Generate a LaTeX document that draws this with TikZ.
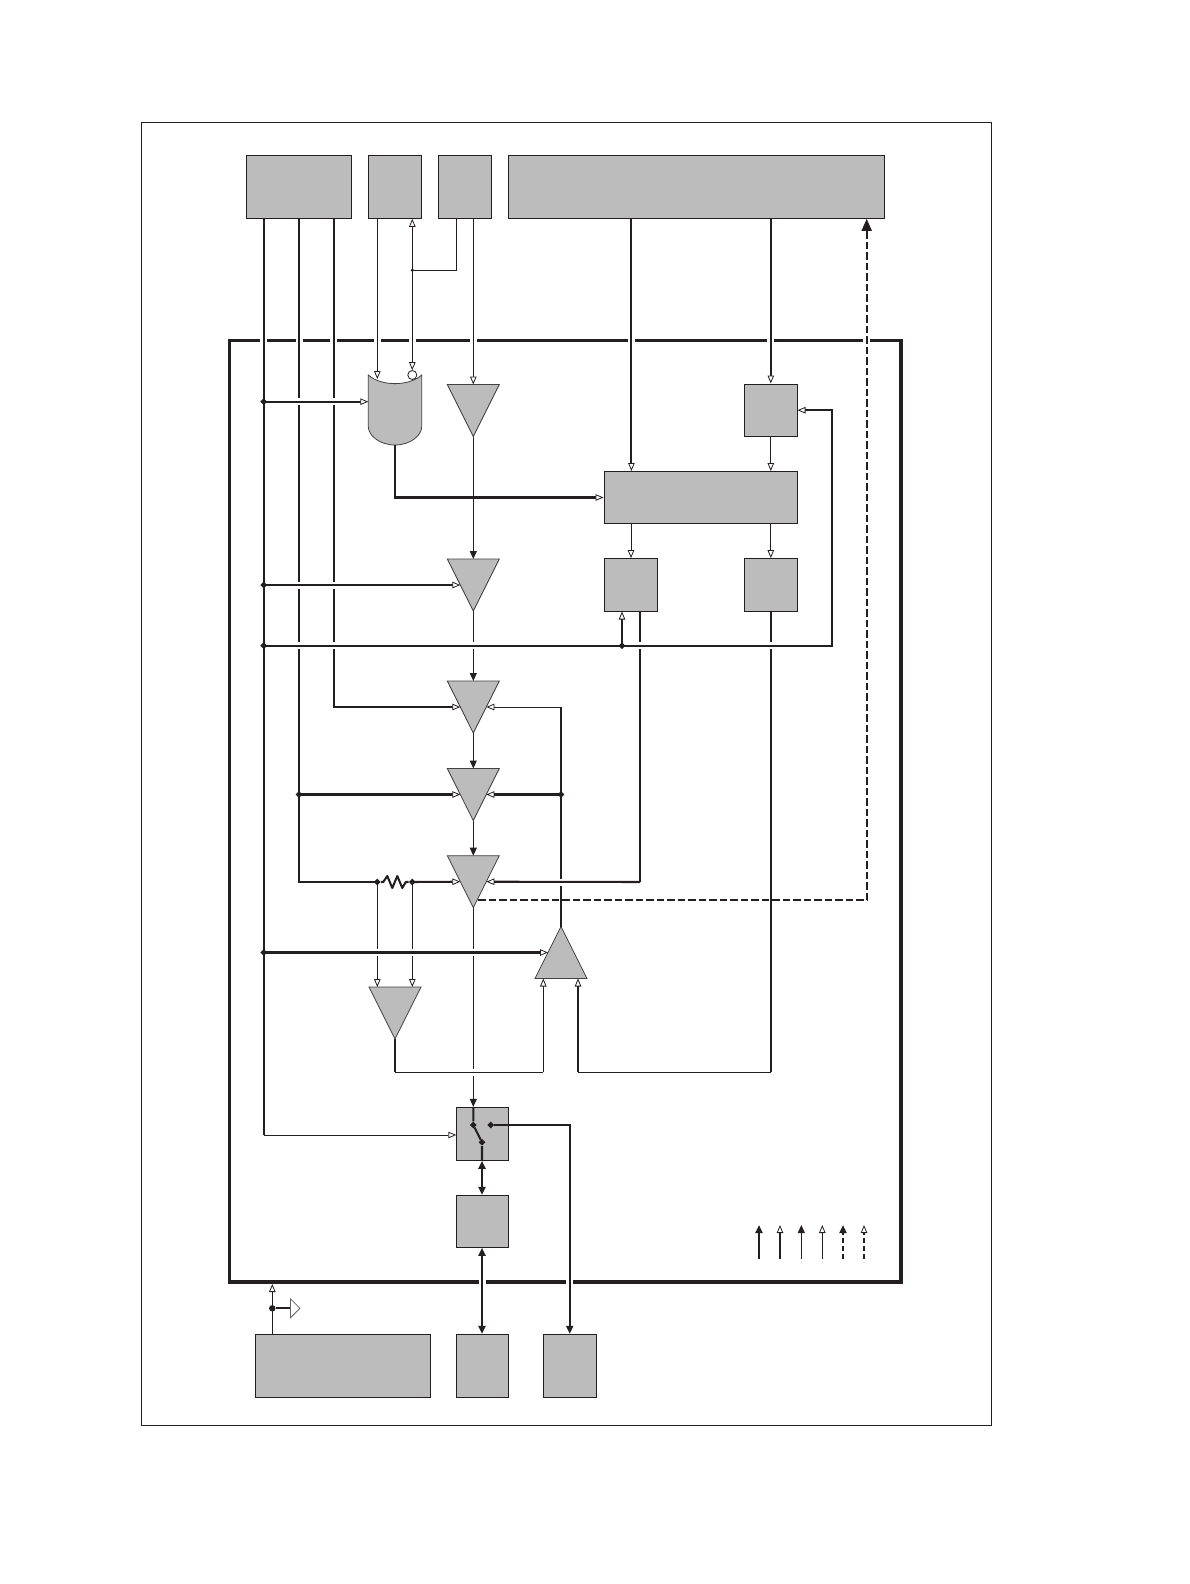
\documentclass[tikz,border=0pt]{standalone}
\usepackage{xcolor}
\usetikzlibrary{positioning,arrows.meta,calc,shapes.geometric}
\definecolor{blockgray}{HTML}{BCBCBC}
\definecolor{wireink}{HTML}{231F20}

\begin{document}
\begin{tikzpicture}[
  x=1pt, y=-1pt,
  block/.style = {draw=wireink, line width=0.9pt, fill=blockgray, inner sep=0pt},
  tribuf/.style = {draw=wireink!85, line width=0.8pt, fill=blockgray, inner sep=0pt, outer sep=0pt,
                   isosceles triangle, isosceles triangle apex angle=53.13,
                   minimum height=52pt, anchor=apex},
  trid/.style = {tribuf, shape border rotate=270},
  triu/.style = {tribuf, shape border rotate=90},
  jdot/.style = {diamond, fill=wireink, inner sep=0pt, minimum size=7pt},
  bus/.style = {draw=wireink, line width=2.05pt},
  sig/.style = {draw=wireink, line width=1pt},
  opn/.style = {-{Triangle[length=8pt, width=6.5pt, fill=white, line width=0.8pt]}},
  opnb/.style = {{Triangle[length=8pt, width=6.5pt, fill=white, line width=0.8pt]}-{Triangle[length=8pt, width=6.5pt, fill=white, line width=0.8pt]}},
  sld/.style = {-{Triangle[length=8pt, width=7pt]}},
  sldb/.style = {{Triangle[length=8pt, width=7pt]}-{Triangle[length=8pt, width=7pt]}},
  hgap/.style = {fill=white, inner sep=0pt, minimum width=7pt, minimum height=5pt},
  vgap/.style = {fill=white, inner sep=0pt, minimum width=4pt, minimum height=7pt}
]
\useasboundingbox (0,0) rectangle (1190,1584);

% ---------- frames ----------------------------------------------------------
\draw[wireink, line width=0.8pt] (141.5,122) rectangle (991.5,1425.5);
\draw[wireink, line width=3.3pt] (229.5,340.5) rectangle (901,1282);
\foreach \gx/\gy [count=\i] in {263.7/340.5, 299/340.5, 333.7/340.5, 377.3/340.5, 412.3/340.5,
    473.3/340.5, 631.4/340.5, 770.8/340.5, 866.7/340.5, 482/1282, 569.7/1282}
  \node[hgap] (fg\i) at (\gx,\gy) {};

% ---------- blocks ----------------------------------------------------------
\node[block, minimum width=105.4pt, minimum height=63.3pt] (ctl) at (299,186.7) {};
\node[block, minimum width=53.4pt, minimum height=63.3pt] (adr) at (395,186.7) {};
\node[block, minimum width=53.4pt, minimum height=63.3pt] (clk) at (465,186.7) {};
\node[block, minimum width=376pt, minimum height=63.3pt] (mem) at (696.3,186.7) {};
\node[block, minimum width=52.5pt, minimum height=52.5pt] (reg) at (770.8,410.2) {};
\node[block, minimum width=193pt, minimum height=52pt] (dec) at (700.5,497.5) {};
\node[block, minimum width=53.5pt, minimum height=52.5pt] (lata) at (631,584.8) {};
\node[block, minimum width=52.5pt, minimum height=52.5pt] (latb) at (770.8,584.8) {};
\node[block, minimum width=52pt, minimum height=53pt] (swb) at (482.7,1133.8) {};
\node[block, minimum width=52pt, minimum height=52pt] (drv) at (482.7,1221.3) {};
\node[block, minimum width=175.4pt, minimum height=63pt] (pwr) at (343,1365.8) {};
\node[block, minimum width=52pt, minimum height=63pt] (pada) at (482.7,1365.8) {};
\node[block, minimum width=52.5pt, minimum height=63pt] (padb) at (569.7,1365.8) {};

\node[trid] (t1) at (473.3,436.5) {};
\node[trid] (t2) at (473.3,611) {};
\node[trid] (t3) at (473.3,733) {};
\node[trid] (t4) at (473.3,820.5) {};
\node[trid] (t5) at (473.3,907.7) {};
\node[trid] (t6) at (395,1039) {};
\node[triu] (t7) at (561,926.5) {};

% input gate
\draw[wireink!85, line width=0.8pt, fill=blockgray] (368.3,375)
  .. controls (381,386.5) and (409,386.5) .. (421.7,375) -- (421.7,426.7)
  .. controls (421.7,435) and (411,445) .. (395,445)
  .. controls (379,445) and (368.3,435) .. (368.3,426.7) -- cycle;
\coordinate (gatein) at (368.3,401.7);
\coordinate (gateout) at (395,445);
\node[circle, draw=wireink, line width=0.8pt, fill=white, inner sep=0pt, minimum size=9pt] (bub) at (412.3,375) {};

% ---------- columns ---------------------------------------------------------
\coordinate (xa) at (263.7,0);
\coordinate (xb) at (299,0);
\coordinate (xc) at (333.7,0);
\coordinate (xd) at (377.3,0);
\coordinate (xe) at (412.3,0);
\coordinate (xg) at (631.4,0);
\coordinate (xh) at (561,0);
\coordinate (xi) at (640,0);
\coordinate (xj) at (622,0);
\coordinate (xk) at (832.4,0);
\coordinate (xl) at (866.7,0);
\coordinate (xm) at (543.3,0);
\coordinate (xn) at (578,0);
\coordinate (xo) at (272.3,0);
\coordinate (xp) at (482,0);
\coordinate (xq) at (569.7,0);

\coordinate (ya) at (0,401.7);
\coordinate (yc) at (0,645.7);
\coordinate (yd) at (0,1072.3);
\coordinate (ye) at (0,882);
\coordinate (ys) at (0,1135);

% ---------- wires that get broken -------------------------------------------
\draw[draw=wireink, line width=1.8pt, dash pattern=on 7.5pt off 3pt,
      -{Triangle[length=12pt, width=10pt]}] (478,900) -| (xl |- mem.south);
\draw[bus] (xa |- ctl.south) -- (xa |- ys);
\draw[sig, opn] (xa |- ys) -- (swb.west |- ys);
\draw[bus] (xb |- ctl.south) -- (xb |- ye) -- (xd |- ye);
\draw[bus, opn] (xc |- ctl.south) -- (xc |- t3.right side) -- (t3.right side);
\draw[sig, opn] (xd |- adr.south) -- (377.3,379);
\draw[sig, opnb] (xe |- adr.south) -- (bub.north);
\draw[sig] (456.7,218.3) -- (456.7,270.3) -- (412.3,270.3);
\node[circle, fill=wireink, inner sep=0pt, minimum size=3.5pt] (tap) at (412.3,270.3) {};
\draw[sig, opn] (t1.north |- clk.south) -- (t1.north);
\draw[bus, opn] (xg |- mem.south) -- (xg |- dec.north);
\draw[bus, opn] (reg.north |- mem.south) -- (reg.north);
\draw[sig, opn] (reg.south) -- (reg.south |- dec.north);
\draw[sig, opn] (lata.north |- dec.south) -- (lata.north);
\draw[sig, opn] (latb.north |- dec.south) -- (latb.north);
\draw[sig, sld] (t1.apex) -- (t2.north);
\draw[sig, sld] (t2.apex) -- (t3.north);
\draw[sig, sld] (t3.apex) -- (t4.north);
\draw[sig, sld] (t4.apex) -- (t5.north);
\draw[sig, sld] (t5.apex) -- (t5.apex |- swb.north);
\draw[bus] (t7.apex) -- (xh |- t3.left side);
\draw[sig, opn] (xh |- t3.left side) -- (t3.left side);
\draw[bus] (xi |- lata.south) -- (xi |- ye);
\draw[bus] (latb.south) -- (latb.south |- yd);
\draw[sig, opn] (xd |- ye) -- (t6.north -| xd);
\draw[sig, opn] (xe |- ye) -- (t6.north -| xe);

\foreach \gx/\gy [count=\i] in {299/401.7, 333.7/401.7, 299/585, 333.7/585, 299/645.7, 333.7/645.7,
    473.3/645.7, 640/645.7, 770.8/645.7, 561/882.5, 377.3/952, 412.3/952, 473.3/952,
    473.3/1072.3}
  \node[vgap] (wg\i) at (\gx,\gy) {};

% ---------- wires on top ----------------------------------------------------
\draw[bus, opn] (xa |- ya) -- (gatein);
\draw[bus, opn] (gateout) |- (dec.west);
\draw[bus, opn] (xa |- t2.right side) -- (t2.right side);
\draw[bus, opn] (xa |- yc) -- (xk |- yc) |- (reg.east);
\draw[bus, opn] (xj |- yc) -- (xj |- lata.south);
\draw[bus, opn] (xb |- t4.right side) -- (t4.right side);
\draw[bus, opn] (xh |- t4.left side) -- (t4.left side);
\draw[bus, opn] (xi |- ye) -- (t5.left side);
\draw[bus, opn] (xe |- ye) -- (t5.right side);
\draw[bus, opn] (xa |- t7.left side) -- (t7.left side);
\draw[bus] (t6.apex) -- (t6.apex |- yd);
\draw[sig] (t6.apex |- yd) -- (xm |- yd);
\draw[sig, opn] (xm |- yd) -- (xm |- t7.south);
\draw[sig] (xn |- yd) -- (latb.south |- yd);
\draw[bus, opn] (xn |- yd) -- (xn |- t7.south);

% resistor
\node[jdot] (ra) at (377.3,882) {};
\node[jdot] (rb) at (412.3,882) {};
\draw[bus, line join=round] (ra) -- ++(6,0) -- ++(4,-6) -- ++(5,12) -- ++(5,-12) -- ++(5,12) -- ++(3.5,-6) -- (rb);

% ---------- junctions -------------------------------------------------------
\node[jdot] (ja) at (xa |- ya) {};
\node[jdot] (jb) at (xa |- t2.right side) {};
\node[jdot] (jc) at (xa |- yc) {};
\node[jdot] (jd) at (xj |- yc) {};
\node[jdot] (je) at (xb |- t4.right side) {};
\node[jdot] (jf) at (xh |- t4.left side) {};
\node[jdot] (jg) at (xa |- t7.left side) {};

% ---------- switch ----------------------------------------------------------
\node[jdot] (swa) at (473.3,1125) {};
\node[jdot] (swc) at (490.7,1125) {};
\node[jdot] (swd) at (482,1142.3) {};
\draw[bus] (t5.apex |- swb.north) -- (swa) -- (swd) -- (xp |- swb.south);
\draw[bus, sldb] (xp |- swb.south) -- (xp |- drv.north);
\draw[bus, sldb] (xp |- drv.south) -- (xp |- pada.north);
\draw[bus, sld] (swc) -| (xq |- padb.north);

% ---------- ground tap ------------------------------------------------------
\draw[sig, opn] (xo |- pwr.north) -- (xo |- 0,1284);
\node[circle, fill=wireink, inner sep=0pt, minimum size=6.5pt] (jgnd) at (272.3,1308.3) {};
\node[draw=wireink!70, line width=0.8pt, fill=white, isosceles triangle, isosceles triangle apex angle=90,
      inner sep=0pt, minimum height=9.5pt, anchor=lower side] (gnd) at (290,1308.3) {};
\draw[bus] (jgnd) -- (gnd.lower side);

% ---------- key -------------------------------------------------------------
\coordinate (ka) at (759,1258.7);
\coordinate (kb) at (780,1258.7);
\coordinate (kc) at (801.3,1258.7);
\coordinate (kd) at (822.3,1258.7);
\coordinate (ke) at (843,1258.7);
\coordinate (kf) at (864,1258.7);
\draw[bus, sld] (ka) -- ++(0,-33.7);
\draw[bus, opn] (kb) -- ++(0,-33.7);
\draw[sig, sld] (kc) -- ++(0,-33.7);
\draw[sig, opn] (kd) -- ++(0,-33.7);
\draw[bus, sld, dash pattern=on 5pt off 3pt] (ke) -- ++(0,-33.7);
\draw[bus, opn, dash pattern=on 5pt off 3pt] (kf) -- ++(0,-33.7);

\end{tikzpicture}
\end{document}
